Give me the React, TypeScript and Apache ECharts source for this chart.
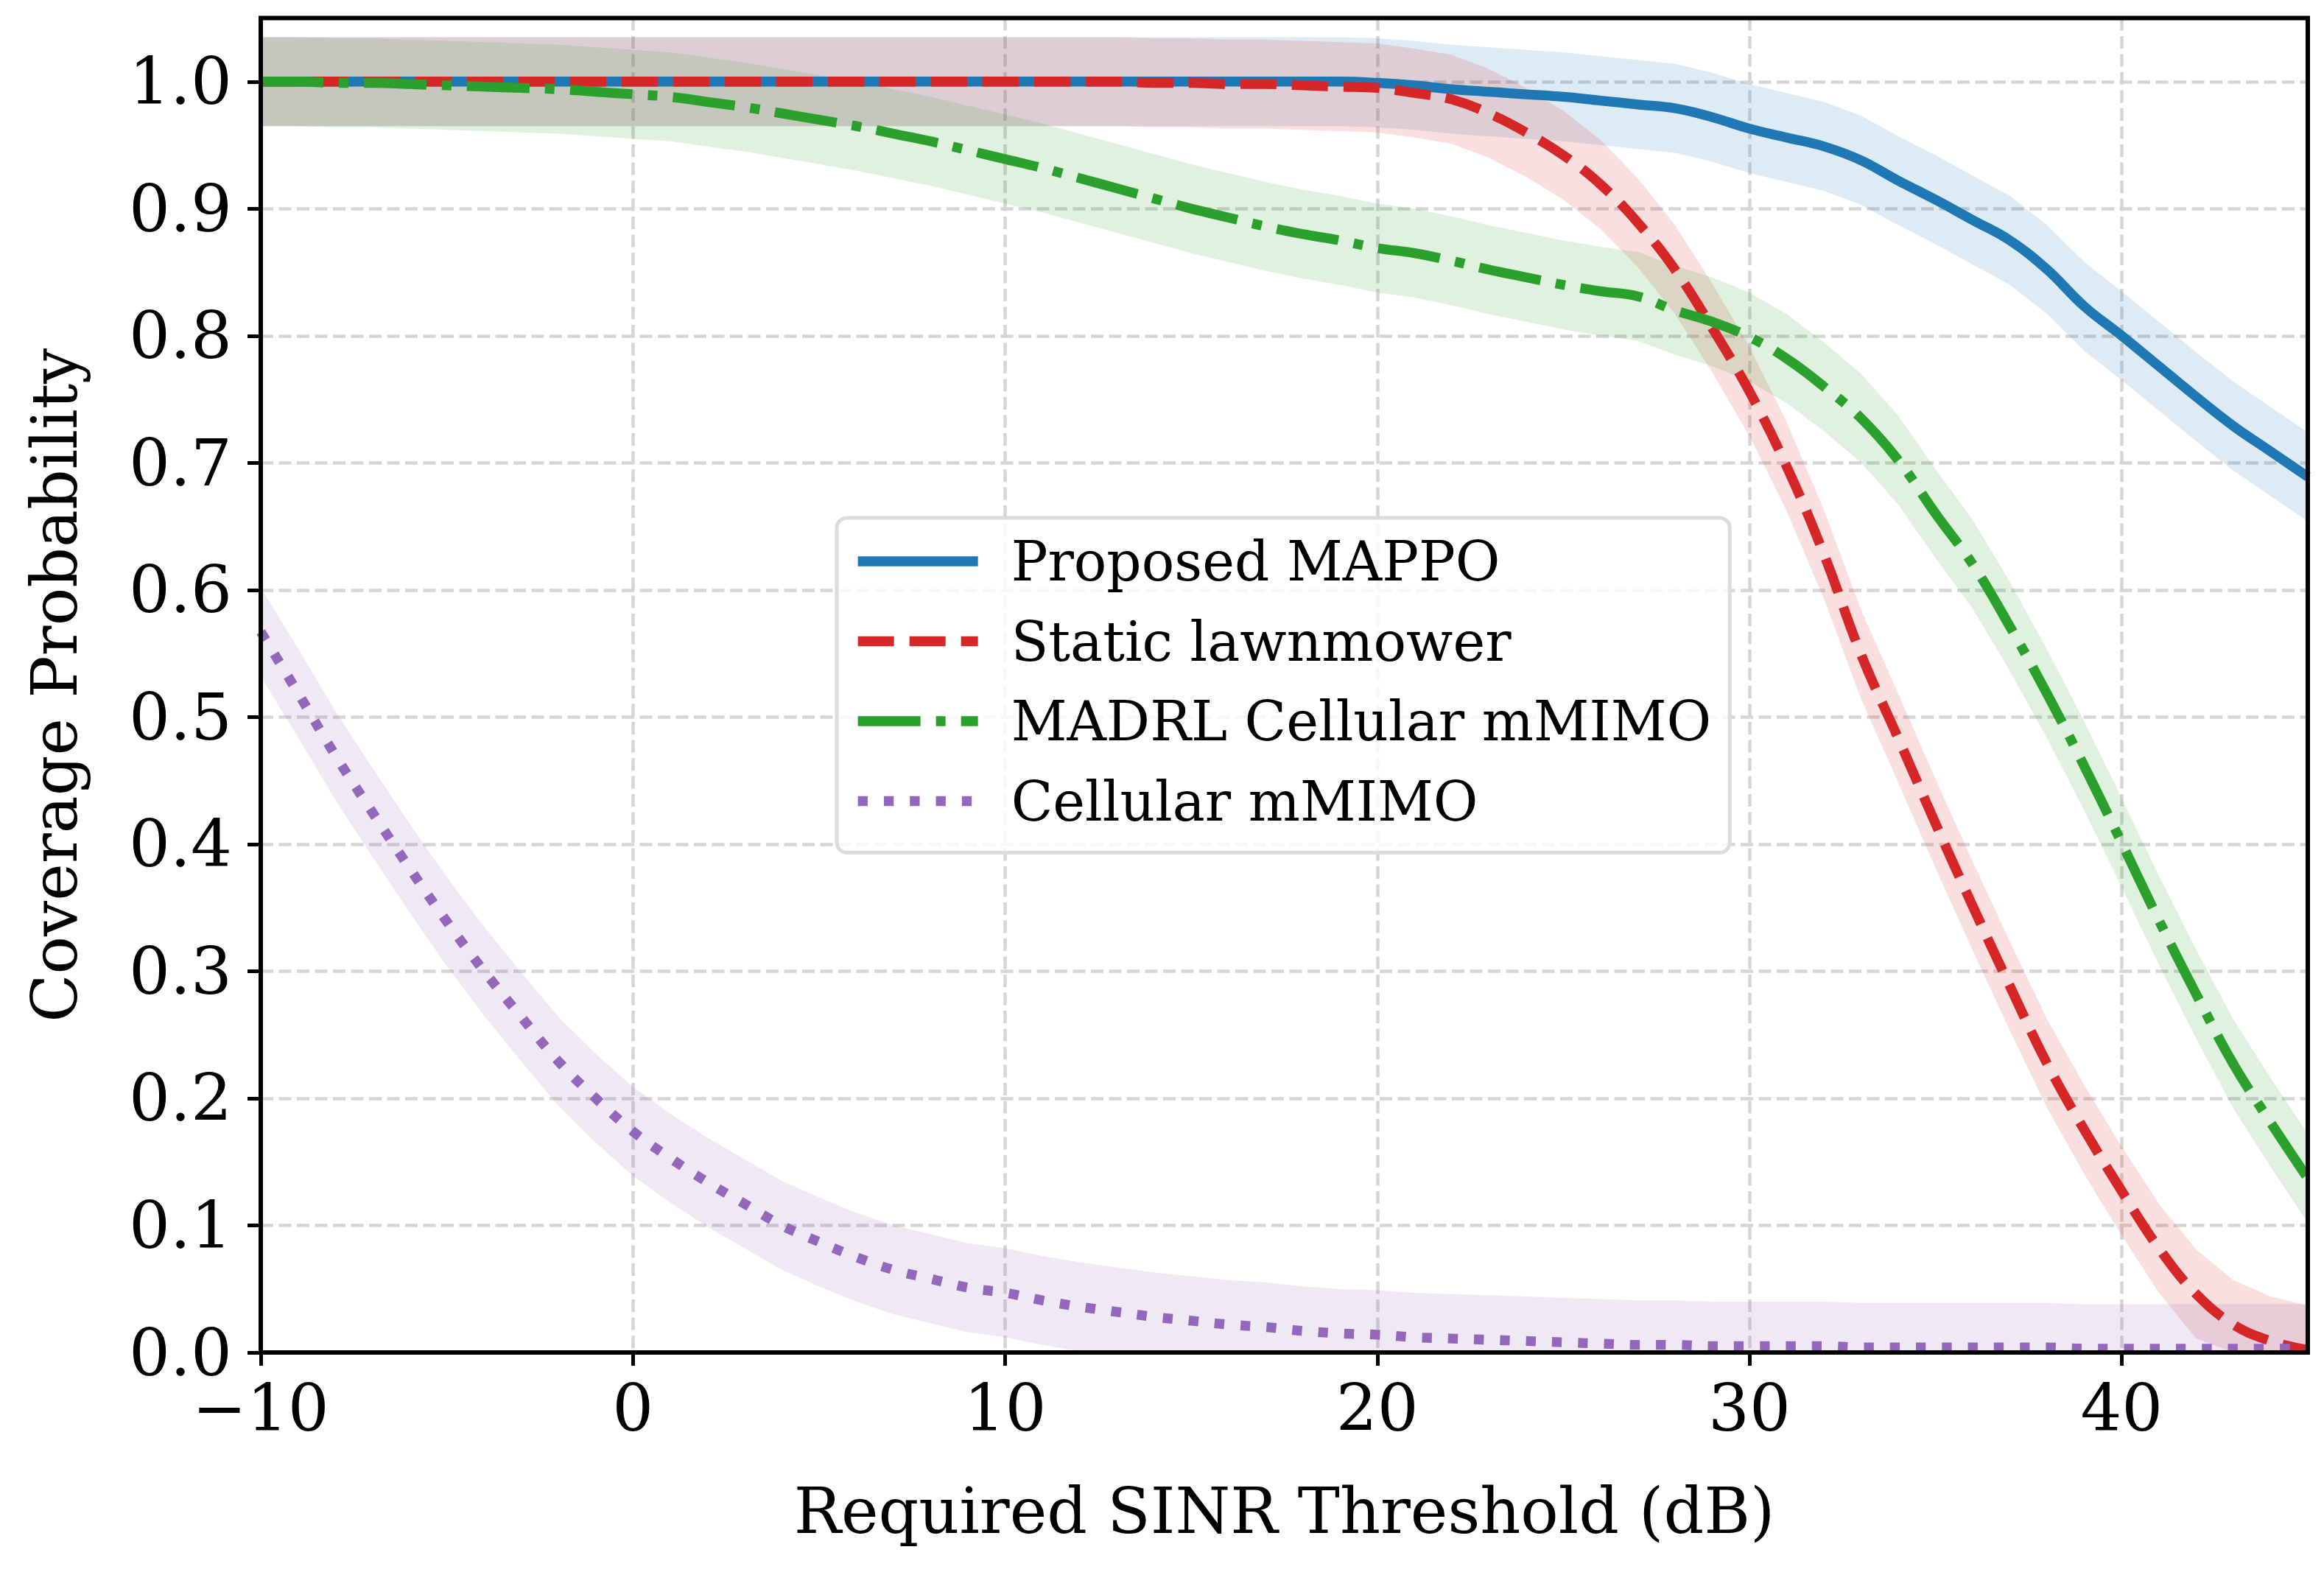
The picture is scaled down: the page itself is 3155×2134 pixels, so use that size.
import React, { useEffect, useRef } from "react";
import * as echarts from "echarts";

// Required SINR threshold (dB) at which coverage was evaluated
const SINR_DB = [
  -10, -9, -8, -7, -6, -5, -4, -3, -2, -1, 0, 1, 2, 3, 4, 5, 6, 7, 8, 9, 10,
  11, 12, 13, 14, 15, 16, 17, 18, 19, 20, 21, 22, 23, 24, 25, 26, 27, 28, 29,
  30, 31, 32, 33, 34, 35, 36, 37, 38, 39, 40, 41, 42, 43, 44, 45,
];

// Mean coverage probability per scheme
const PROPOSED_MAPPO = [
  1.0, 1.0, 1.0, 1.0, 1.0, 1.0, 1.0, 1.0, 1.0, 1.0, 1.0, 1.0, 1.0, 1.0, 1.0,
  1.0, 1.0, 1.0, 1.0, 1.0, 1.0, 1.0, 1.0, 1.0, 1.0, 1.0, 1.0, 1.0, 1.0, 1.0,
  0.999, 0.997, 0.994, 0.992, 0.99, 0.988, 0.985, 0.982, 0.979, 0.972, 0.963,
  0.956, 0.949, 0.938, 0.922, 0.907, 0.891, 0.875, 0.852, 0.823, 0.8, 0.776,
  0.752, 0.729, 0.709, 0.689,
];

const STATIC_LAWNMOWER = [
  1.0, 1.0, 1.0, 1.0, 1.0, 1.0, 1.0, 1.0, 1.0, 1.0, 1.0, 1.0, 1.0, 1.0, 1.0,
  1.0, 1.0, 1.0, 1.0, 1.0, 1.0, 1.0, 1.0, 1.0, 0.999, 0.999, 0.998, 0.998,
  0.997, 0.996, 0.995, 0.991, 0.986, 0.975, 0.96, 0.942, 0.919, 0.889, 0.852,
  0.806, 0.756, 0.697, 0.628, 0.549, 0.483, 0.416, 0.351, 0.288, 0.227, 0.175,
  0.127, 0.082, 0.046, 0.022, 0.009, 0.002,
];

const MADRL_CELLULAR = [
  1.0, 1.0, 0.999, 0.999, 0.998, 0.997, 0.996, 0.995, 0.994, 0.992, 0.99,
  0.988, 0.984, 0.98, 0.975, 0.97, 0.965, 0.959, 0.953, 0.946, 0.939, 0.932,
  0.924, 0.916, 0.908, 0.9, 0.893, 0.886, 0.88, 0.875, 0.869, 0.865, 0.859,
  0.852, 0.846, 0.84, 0.835, 0.831, 0.82, 0.811, 0.799, 0.782, 0.76, 0.735,
  0.702, 0.66, 0.62, 0.571, 0.518, 0.461, 0.401, 0.34, 0.282, 0.227, 0.181,
  0.137,
];

const CELLULAR_MMIMO = [
  0.567, 0.519, 0.47, 0.425, 0.381, 0.339, 0.3, 0.264, 0.229, 0.2, 0.174,
  0.153, 0.134, 0.117, 0.1, 0.087, 0.075, 0.065, 0.058, 0.051, 0.047, 0.041,
  0.036, 0.032, 0.028, 0.025, 0.022, 0.02, 0.017, 0.015, 0.014, 0.012, 0.011,
  0.01, 0.009, 0.008, 0.007, 0.006, 0.006, 0.005, 0.005, 0.005, 0.005, 0.004,
  0.004, 0.004, 0.004, 0.004, 0.004, 0.003, 0.003, 0.003, 0.003, 0.003, 0.003,
  0.003,
];

// Half-width of the shaded spread drawn around every mean curve
const SPREAD = [0.035, 0.035, 0.035, 0.035];

const SERIES_NAMES = [
  "Proposed MAPPO",
  "Static lawnmower",
  "MADRL Cellular mMIMO",
  "Cellular mMIMO",
];

const X_TICKS = [-10, 0, 10, 20, 30, 40];
const Y_TICKS = [0, 0.1, 0.2, 0.3, 0.4, 0.5, 0.6, 0.7, 0.8, 0.9, 1.0];

// Layout and styling
const WIDTH = 3155;
const HEIGHT = 2134;
const GRID = { left: 354, right: 22, top: 24.5, bottom: 298 };
const FONT = "'DejaVu Serif', serif";
const COLORS = ["#1f77b4", "#d62728", "#2ca02c", "#9467bd"];
const LINE_WIDTH = 13.3;
const DASHES: any[] = ["solid", [49, 21], [85, 21, 13, 21], [13.3, 22]];
const SMOOTH = 0.4;

function buildOption() {
  const curves = [
    PROPOSED_MAPPO,
    STATIC_LAWNMOWER,
    MADRL_CELLULAR,
    CELLULAR_MMIMO,
  ];

  // Shaded spreads: one filled polygon per scheme (upper edge, then lower edge back)
  const spreadSeries = curves.map((values, i) => {
    const lower = values.map((v) => Math.max(0, v - SPREAD[i]));
    const upper = values.map((v) => Math.min(1.05, v + SPREAD[i]));
    return {
      type: "custom",
      name: SERIES_NAMES[i] + " spread",
      silent: true,
      z: 1,
      data: SINR_DB.map((x, j) => [x, lower[j], upper[j]]),
      encode: { x: 0, y: [1, 2] },
      renderItem: (params: any, api: any) => {
        if (params.dataIndex !== 0) return null;
        const top = SINR_DB.map((x, j) => api.coord([x, upper[j]]));
        const bottom = SINR_DB.map((x, j) => api.coord([x, lower[j]])).reverse();
        return {
          type: "polygon",
          shape: { points: top.concat(bottom) },
          style: { fill: COLORS[i], opacity: 0.15 },
        };
      },
    };
  });

  const lineSeries = curves.map((values, i) => ({
    type: "line",
    name: SERIES_NAMES[i],
    data: SINR_DB.map((x, j) => [x, values[j]]),
    symbol: "none",
    smooth: SMOOTH,
    color: COLORS[i],
    lineStyle: {
      color: COLORS[i],
      width: LINE_WIDTH,
      type: DASHES[i],
      cap: "butt",
      join: "round",
    },
    clip: true,
    z: 3,
  }));

  const tickText = { fontFamily: FONT, fontSize: 88, color: "#000" };
  const nameText = { fontFamily: FONT, fontSize: 85.5, color: "#000" };
  const gridLine = {
    show: true,
    lineStyle: { color: "#d5d5d5", width: 4.5, type: [17, 7.5] },
  };
  const tick = {
    show: true,
    length: 18,
    lineStyle: { color: "#000", width: 5 },
  };

  const plotW = WIDTH - GRID.left - GRID.right;
  const plotH = HEIGHT - GRID.top - GRID.bottom;

  return {
    animation: false,
    backgroundColor: "#ffffff",
    grid: {
      ...GRID,
      containLabel: false,
      outerBoundsMode: "none",
      show: false,
    },
    xAxis: {
      type: "value",
      min: -10,
      max: 45,
      interval: 10,
      name: "Required SINR Threshold (dB)",
      nameLocation: "middle",
      nameGap: 172,
      nameTextStyle: nameText,
      axisLine: { show: false, onZero: false },
      axisTick: { ...tick, customValues: X_TICKS },
      axisLabel: {
        ...tickText,
        margin: 31,
        customValues: X_TICKS,
        formatter: (v: number) => String(v).replace("-", "\u2212"),
      },
      splitLine: gridLine,
    },
    yAxis: {
      type: "value",
      min: 0,
      max: 1.05,
      interval: 0.1,
      name: "Coverage Probability",
      nameLocation: "middle",
      nameRotate: 90,
      nameGap: 237,
      nameTextStyle: nameText,
      axisLine: { show: false, onZero: false },
      axisTick: { ...tick, customValues: Y_TICKS },
      axisLabel: {
        ...tickText,
        margin: 39,
        customValues: Y_TICKS,
        formatter: (v: number) => v.toFixed(1),
      },
      splitLine: gridLine,
    },
    legend: {
      data: SERIES_NAMES,
      orient: "vertical",
      left: 1136,
      top: 703,
      itemWidth: 163,
      itemHeight: 14,
      itemGap: 18.5,
      itemStyle: { opacity: 0 },
      lineStyle: { width: LINE_WIDTH },
      textStyle: {
        fontFamily: FONT,
        fontSize: 74,
        color: "#000",
        lineHeight: 90,
        padding: [0, 0, 0, 40],
      },
      padding: [14, 25, 25, 22],
      backgroundColor: "rgba(255,255,255,0.8)",
      borderColor: "#dcdcdc",
      borderWidth: 5,
      borderRadius: 14,
      selectedMode: false,
      z: 20,
    },
    graphic: {
      elements: [
        {
          type: "rect",
          silent: true,
          z: 100,
          shape: { x: GRID.left, y: GRID.top, width: plotW, height: plotH },
          style: { fill: "none", stroke: "#000", lineWidth: 6 },
        },
      ],
    },
    series: [...spreadSeries, ...lineSeries],
  };
}

export default function App() {
  const ref = useRef<HTMLDivElement>(null);

  useEffect(() => {
    if (!ref.current) return;
    const chart = echarts.init(ref.current, null, { renderer: "svg" });
    chart.setOption(buildOption() as any);
    return () => chart.dispose();
  }, []);

  return (
    <div
      ref={ref}
      style={{
        position: "absolute",
        left: 0,
        top: 0,
        width: WIDTH,
        height: HEIGHT,
        background: "#fff",
      }}
    />
  );
}
